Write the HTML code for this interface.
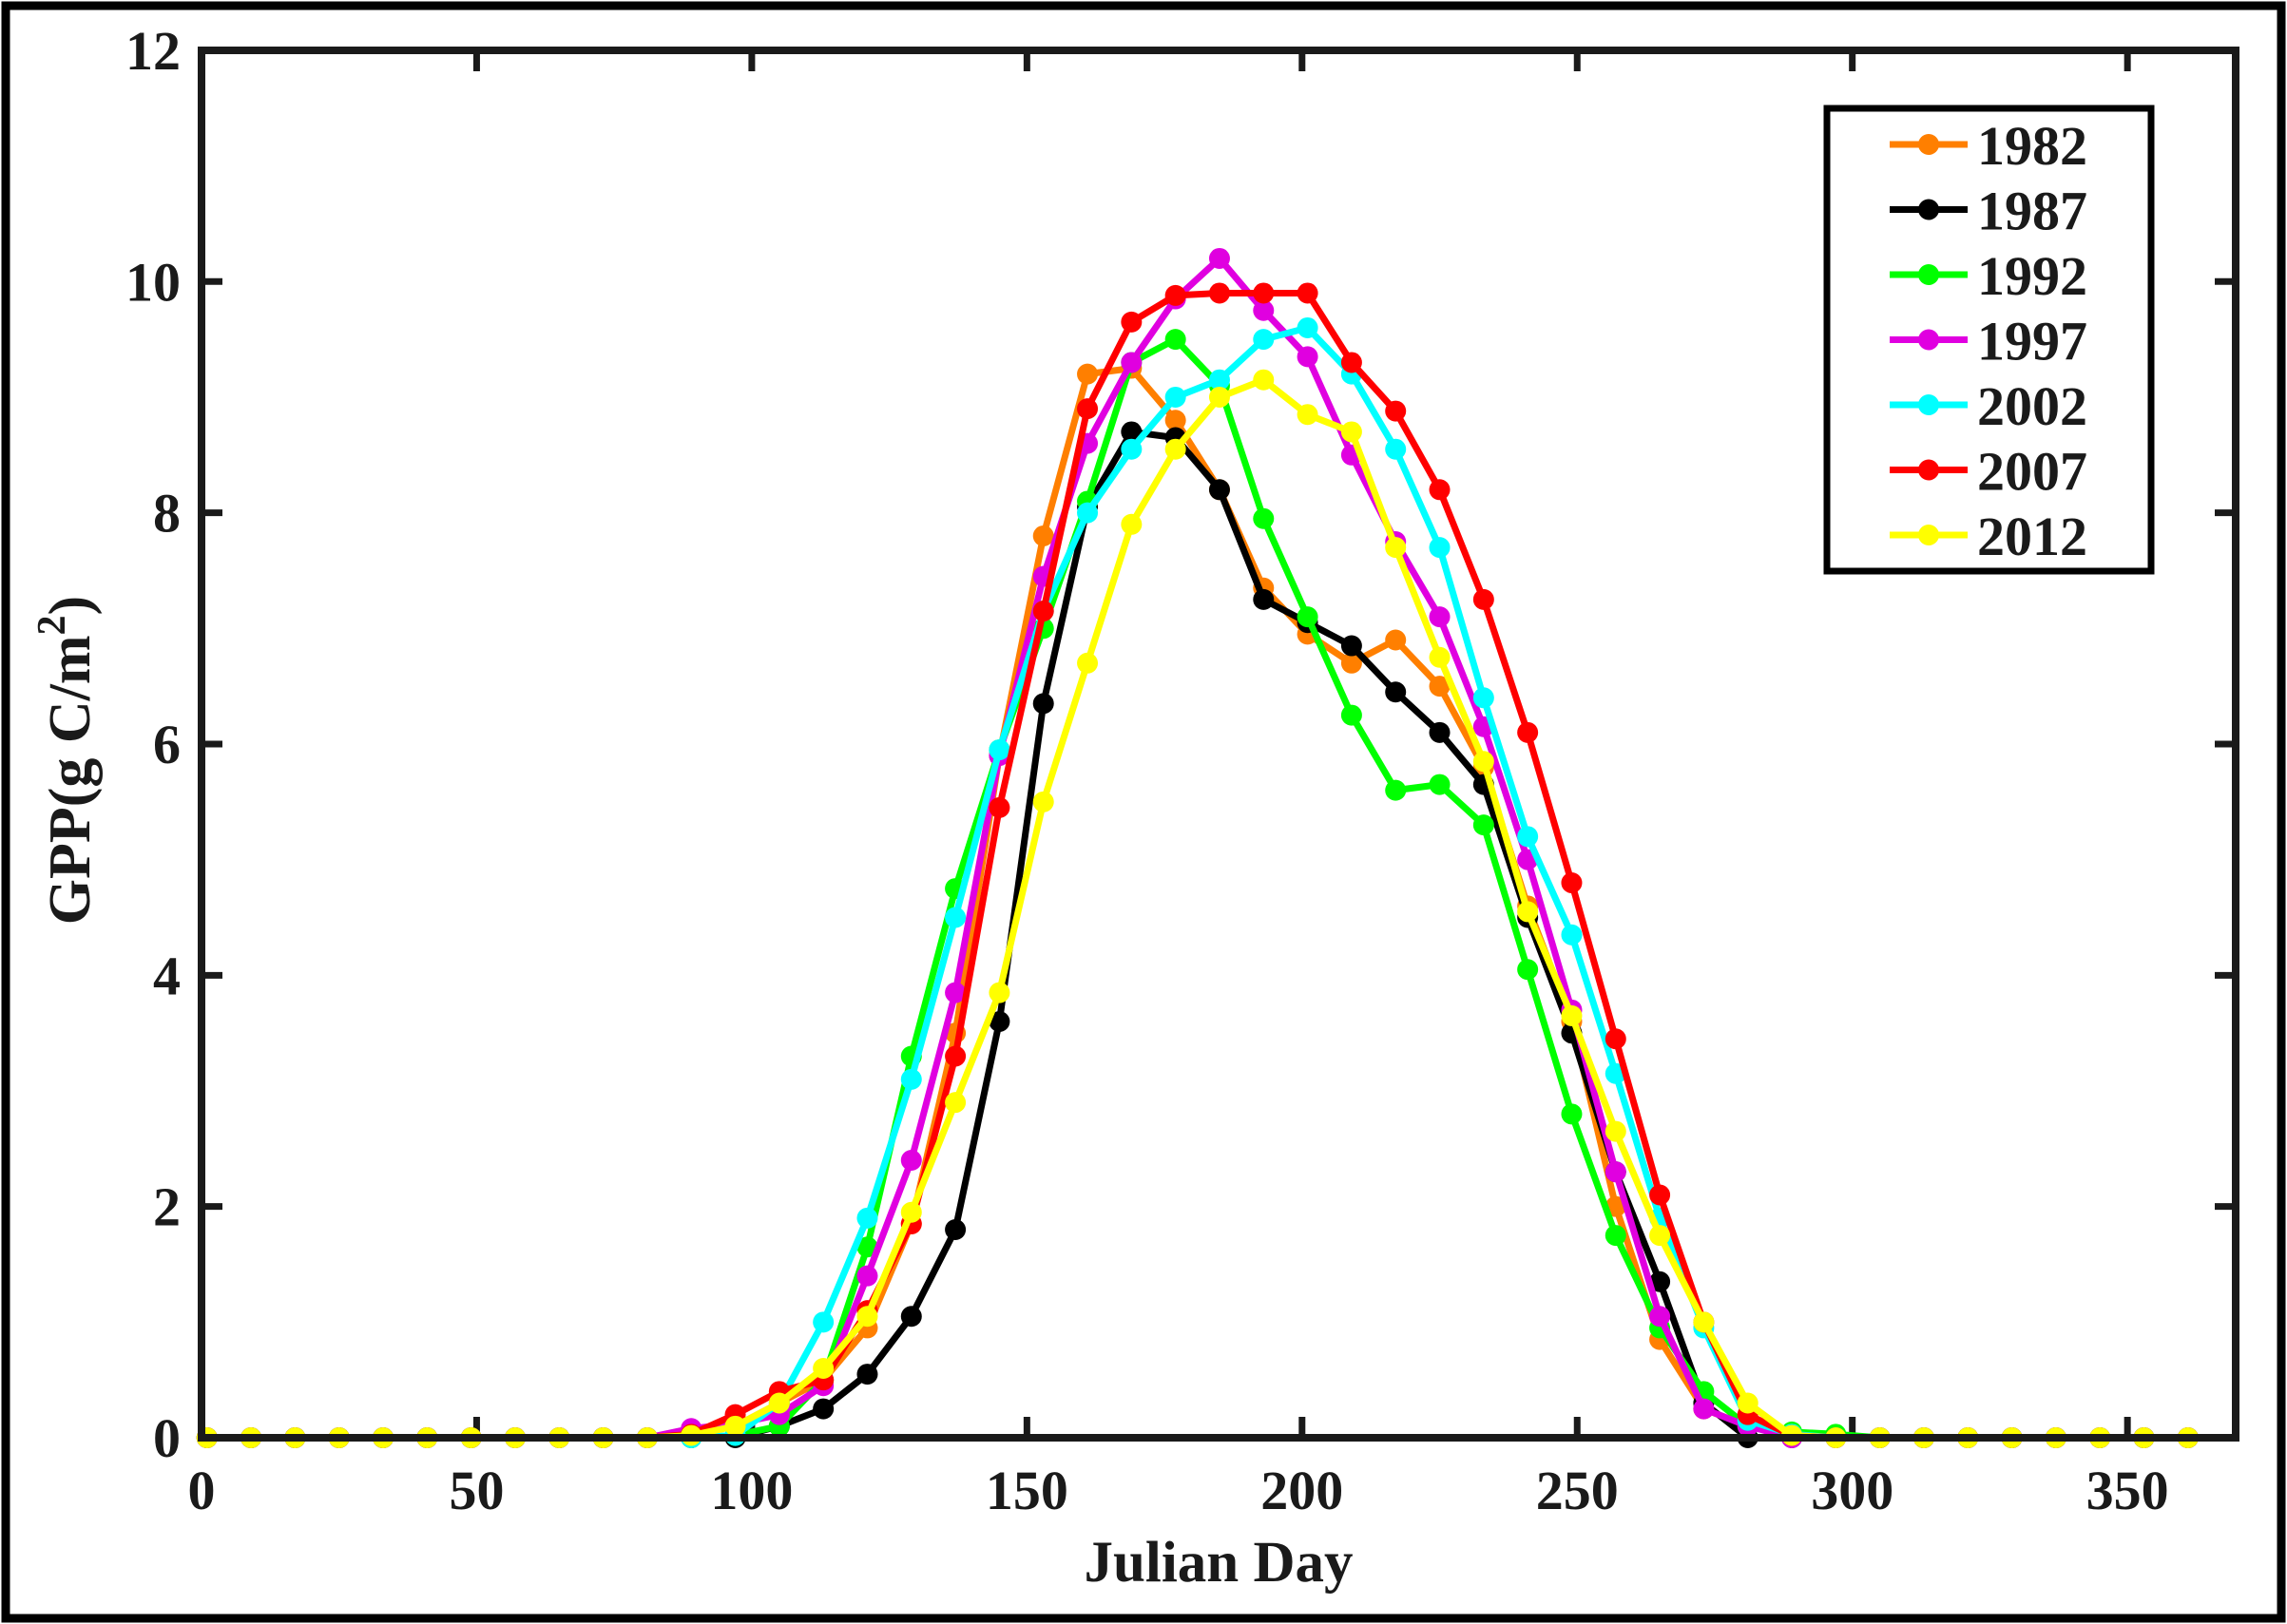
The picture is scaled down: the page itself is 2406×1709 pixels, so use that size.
<!DOCTYPE html>
<html><head><meta charset="utf-8"><style>
html,body{margin:0;padding:0;background:#fff;}
svg{display:block;}
text{font-family:"Liberation Serif",serif;font-weight:bold;fill:#1a1a1a;}
</style></head><body>
<svg id="s" width="2406" height="1709" xmlns="http://www.w3.org/2000/svg">
<rect x="6" y="6" width="2394" height="1697" fill="#fff" stroke="#000" stroke-width="9"/>
<g id="g"></g>
</svg>
<script>
const NS="http://www.w3.org/2000/svg";
const g=document.getElementById('g');
function el(t,a,txt){const e=document.createElementNS(NS,t);for(const k in a)e.setAttribute(k,a[k]);if(txt!==undefined)e.textContent=txt;g.appendChild(e);return e;}
const X0=212,XS=5.789,Y0=1513,YS=121.67;
const X=d=>X0+XS*d, Y=v=>Y0-YS*v;
const L=212,R=2352,T=53,B=1513;
for(let v=0;v<=12;v+=2){const y=Y(v);
 el('line',{x1:L,x2:L+22,y1:y,y2:y,stroke:'#1a1a1a','stroke-width':7});
 el('line',{x1:R,x2:R-22,y1:y,y2:y,stroke:'#1a1a1a','stroke-width':7});
 el('text',{x:190,y:y+20,'text-anchor':'end','font-size':58},v);}
for(let d=0;d<=350;d+=50){const x=X(d);
 el('line',{x1:x,x2:x,y1:B,y2:B-22,stroke:'#1a1a1a','stroke-width':7});
 el('line',{x1:x,x2:x,y1:T,y2:T+22,stroke:'#1a1a1a','stroke-width':7});
 el('text',{x:x,y:1588,'text-anchor':'middle','font-size':58},d);}
el('text',{x:1282,y:1664,'text-anchor':'middle','font-size':61},'Julian Day');
const yl=el('text',{x:0,y:0,'text-anchor':'middle','font-size':62,transform:'translate(94,800) rotate(-90)'});
yl.innerHTML='GPP(g C/m<tspan dy="-26" font-size="42">2</tspan><tspan dy="26">)</tspan>';
const days=[];for(let i=0;i<46;i++)days.push(1+8*i);
function mk(vals){const a=new Array(46).fill(0);vals.forEach((v,i)=>a[11+i]=v);return a;}
const S=[
['1982','#ff7f00',mk([0.05,0.1,0.3,0.5,0.95,1.85,3.5,5.9,7.8,9.2,9.25,8.8,8.2,7.35,6.95,6.7,6.9,6.5,5.8,4.6,3.6,2.0,0.85,0.25,0.1,0.02])],
['1987','#000000',mk([0,0,0.1,0.25,0.55,1.05,1.8,3.6,6.35,8.05,8.7,8.65,8.2,7.25,7.05,6.85,6.45,6.1,5.65,4.5,3.5,2.3,1.35,0.3,0,0])],
['1992','#00ff00',mk([0,0.02,0.1,0.5,1.65,3.3,4.75,5.95,7.0,8.1,9.3,9.5,9.1,7.95,7.1,6.25,5.6,5.65,5.3,4.05,2.8,1.75,0.95,0.4,0.1,0.05,0.03])],
['1997','#e000e0',mk([0.08,0.12,0.2,0.45,1.4,2.4,3.85,5.9,7.45,8.6,9.3,9.85,10.2,9.75,9.35,8.5,7.75,7.1,6.15,5.0,3.7,2.3,1.05,0.25,0.1,0])],
['2002','#00ffff',mk([0,0.02,0.3,1.0,1.9,3.1,4.5,5.95,7.15,8.0,8.55,9.0,9.15,9.5,9.6,9.2,8.55,7.7,6.4,5.2,4.35,3.15,1.9,0.95,0.15,0.03])],
['2007','#ff0000',mk([0.03,0.2,0.4,0.5,1.1,1.85,3.3,5.45,7.15,8.9,9.65,9.88,9.9,9.9,9.9,9.3,8.88,8.2,7.25,6.1,4.8,3.45,2.1,1.0,0.2,0.02])],
['2012','#ffff00',mk([0.02,0.1,0.3,0.6,1.05,1.95,2.9,3.85,5.5,6.7,7.9,8.55,9.0,9.15,8.85,8.7,7.7,6.75,5.85,4.55,3.65,2.65,1.75,1.0,0.3,0.02])]
];
S.forEach(([n,c,v])=>{
 el('polyline',{points:v.map((y,i)=>X(days[i]).toFixed(1)+','+Y(y).toFixed(1)).join(' '),fill:'none',stroke:c,'stroke-width':7,'stroke-linejoin':'round'});
 v.forEach((y,i)=>el('circle',{cx:X(days[i]),cy:Y(y),r:11,fill:c}));
});
el('rect',{x:L,y:T,width:R-L,height:B-T,fill:'none',stroke:'#1a1a1a','stroke-width':8});
el('rect',{x:1922,y:114,width:341,height:487,fill:'#fff',stroke:'#000','stroke-width':7});
S.forEach(([n,c],k)=>{const y=152+68.5*k;
 el('line',{x1:1988,x2:2070,y1:y,y2:y,stroke:c,'stroke-width':7});
 el('circle',{cx:2029,cy:y,r:11,fill:c});
 el('text',{x:2080,y:y+21,'font-size':58,fill:'#000'},n);});
</script>
</body></html>
